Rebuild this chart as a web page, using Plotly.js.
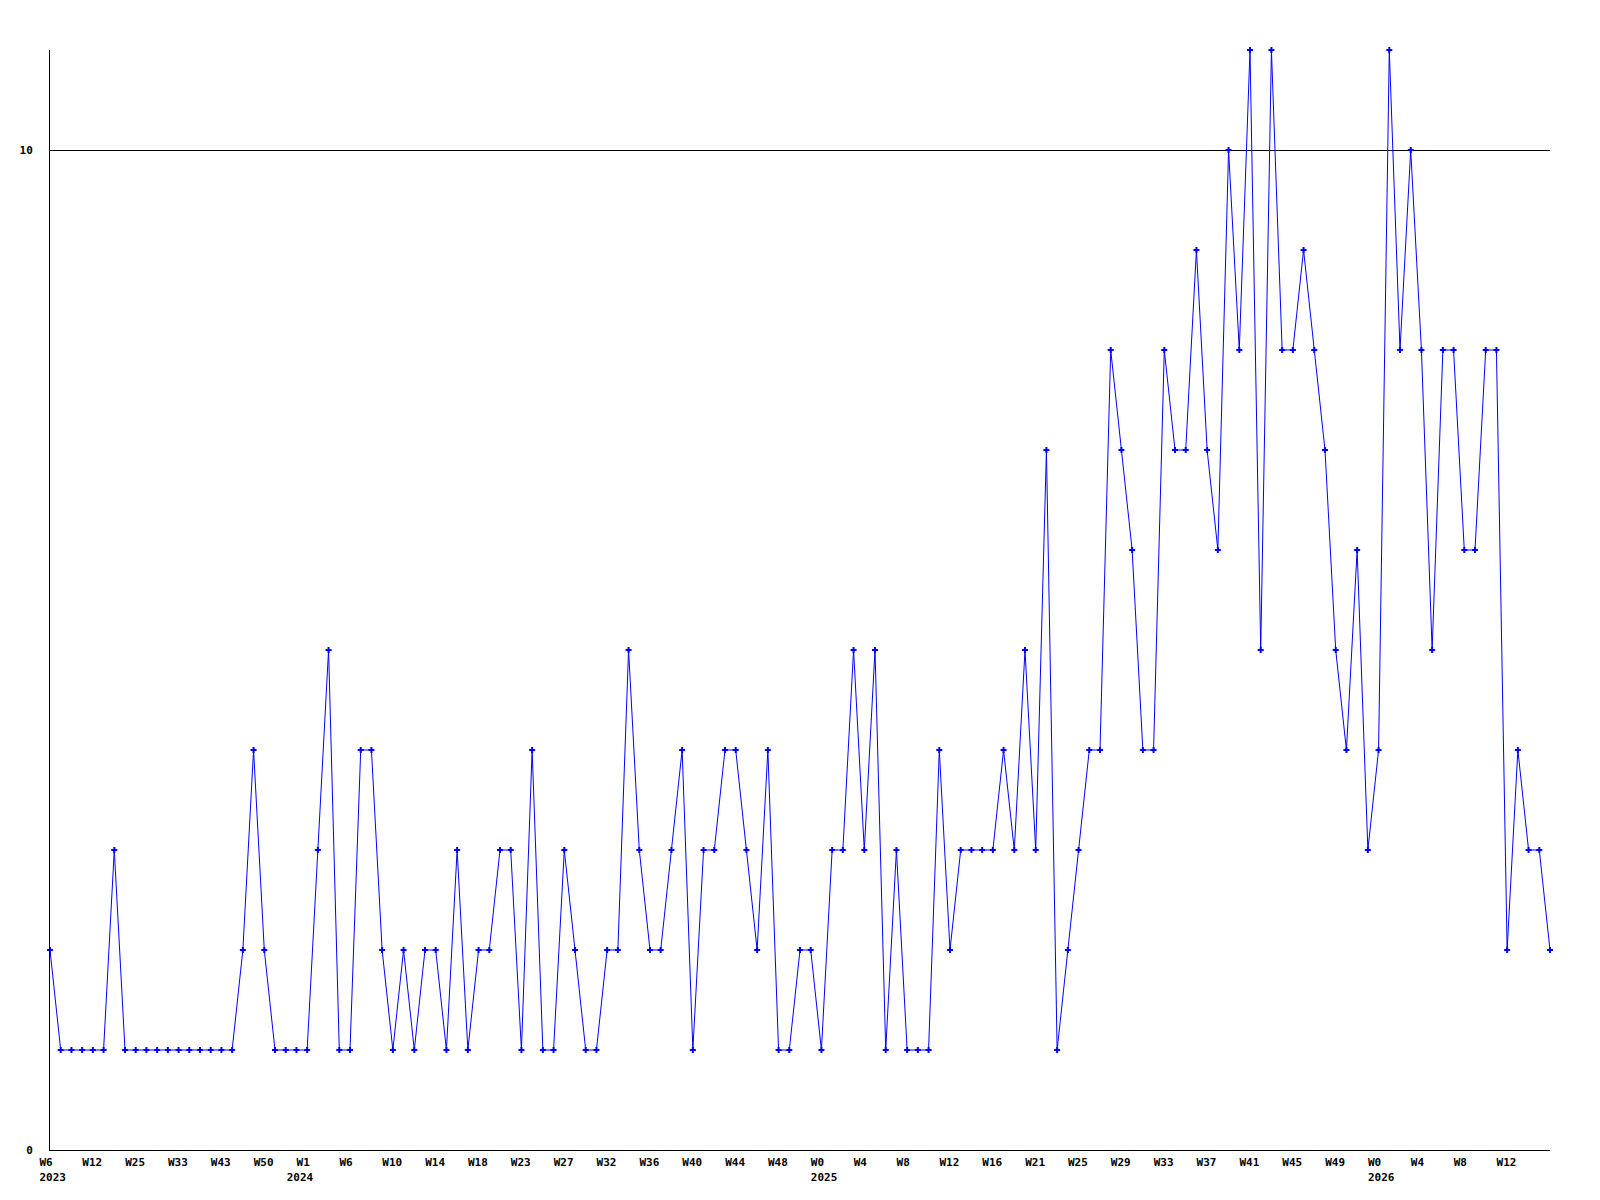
<!DOCTYPE html>
<html>
<head>
<meta charset="utf-8">
<script src="https://cdn.plot.ly/plotly-3.0.1.min.js"></script>
<style>html,body{margin:0;padding:0;background:#fff;}#chart{width:1600px;height:1200px;}</style>
</head>
<body>
<div id="chart"></div>
<script>
// Weekly counts, in order (141 points)
const values = [
  2,1,1,1,1,1,3,1,1,1,1,1,1,1,1,1,1,1,2,4,
  2,1,1,1,1,3,5,1,1,4,4,2,1,2,1,2,2,1,3,1,
  2,2,3,3,1,4,1,1,3,2,1,1,2,2,5,3,2,2,3,4,
  1,3,3,4,4,3,2,4,1,1,2,2,1,3,3,5,3,5,1,3,
  1,1,1,4,2,3,3,3,3,4,3,5,3,7,1,2,3,4,4,8,
  7,6,4,4,8,7,7,9,7,6,10,8,11,5,11,8,8,9,8,7,
  5,4,6,3,4,11,8,10,8,5,8,8,6,6,8,8,2,4,3,3,
  2
];
// Tick labels (week, optional year), one every 4 points
const tickWeeks = ["W6","W12","W25","W33","W43","W50",
  "W1","W6","W10","W14","W18","W23","W27","W32","W36","W40","W44","W48",
  "W0","W4","W8","W12","W16","W21","W25","W29","W33","W37","W41","W45","W49",
  "W0","W4","W8","W12"];
const tickYears = ["2023","","","","","",
  "2024","","","","","","","","","","","",
  "2025","","","","","","","","","","","","",
  "2026","","",""];
const tickStep = 4;
const yTicks = [0, 10];

const NB = "\u00A0";
const pad = (s, n) => s + NB.repeat(Math.max(0, n - s.length));
const xs = values.map((_, i) => i);
const tickVals = tickWeeks.map((_, i) => i * tickStep + 0.25);
const tickText = tickWeeks.map((w, i) => {
  const y = tickYears[i];
  if (!y) return pad(w, 4);
  // 2024 label sits slightly further left in the reference
  const yl = (y === "2024") ? y + NB.repeat(3) : y;
  return pad(w, 4) + "<br>" + yl;
});

const font = {family: "DejaVu Sans Mono, Liberation Mono, monospace", size: 11, color: "#000", weight: "bold"};

Plotly.newPlot("chart", [{
  x: xs, y: values, type: "scatter", mode: "lines+markers",
  line: {color: "#0000ff", width: 1},
  marker: {color: "#0000ff", symbol: "cross", size: 5, line: {width: 0}},
  cliponaxis: false, hoverinfo: "x+y"
}], {
  width: 1600, height: 1200,
  margin: {l: 50, r: 50, t: 50, b: 50},
  paper_bgcolor: "#fff", plot_bgcolor: "#fff",
  showlegend: false,
  font: font,
  xaxis: {
    range: [0, values.length - 1], tickvals: tickVals, ticktext: tickText,
    showgrid: false, zeroline: false, showline: true, linecolor: "#000", linewidth: 1,
    ticks: "outside", ticklen: 2, tickcolor: "rgba(0,0,0,0)", tickangle: 0,
    tickfont: font
  },
  yaxis: {
    range: [0, 11], tickvals: yTicks, ticktext: yTicks.map(String),
    showgrid: true, gridcolor: "#000", gridwidth: 1, zeroline: false,
    showline: true, linecolor: "#000", linewidth: 1,
    ticks: "outside", ticklen: 14, tickcolor: "rgba(0,0,0,0)",
    tickfont: font
  }
}, {staticPlot: true});
</script>
</body>
</html>
